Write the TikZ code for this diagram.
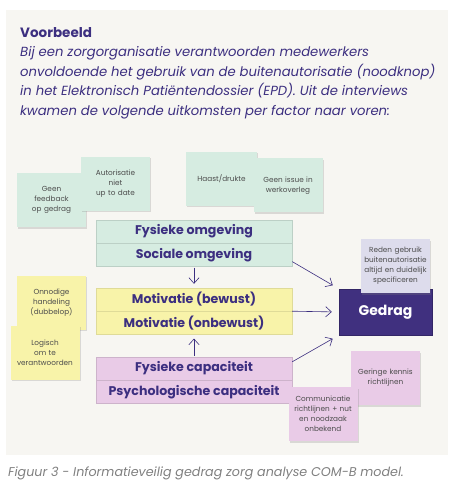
\documentclass[tikz,border=0pt]{standalone}
\usepackage{fontspec}
\setmainfont{Poppins}
\usetikzlibrary{arrows.meta,positioning,shadows}
\definecolor{paper}{HTML}{F7F6F2}
\definecolor{ink}{HTML}{3C2F80}
\definecolor{mint}{HTML}{D6ECE1}
\definecolor{lemon}{HTML}{F8F3A9}
\definecolor{lilac}{HTML}{E9CBE7}
\definecolor{lavender}{HTML}{DDDCEC}
\definecolor{plum}{HTML}{40307F}

\begin{document}
\begin{tikzpicture}[
    x=1pt, y=-1pt,
    factor/.style={minimum width=196pt, minimum height=23pt, inner sep=0pt,
        font=\bfseries\fontsize{12.6}{14}\selectfont, text=ink},
    note/.style={minimum width=69pt, minimum height=54pt, inner sep=1pt,
        text width=66pt, align=center, text=black!70,
        font=\fontsize{7.3}{10}\selectfont,
        drop shadow={shadow xshift=1.2pt, shadow yshift=-1.5pt, opacity=0.25}},
    flow/.style={-{Straight Barb[length=2mm,width=3.6mm]}, ink, semithick}
]
\useasboundingbox (0,0) rectangle (448,502);
\fill[paper] (6,10) rectangle (448,455);

% intro text
\node[anchor=base west, inner sep=0pt, text=ink, font=\bfseries\fontsize{13.5}{15}\selectfont]
    (title) at (20,38) {Voorbeeld};
\node[anchor=north west, inner sep=0pt, align=left, text=ink,
      font=\itshape\fontsize{13.2}{19.5}\selectfont] (intro) at (20,46.5)
    {Bij een zorgorganisatie verantwoorden medewerkers\\
     onvoldoende het gebruik van de buitenautorisatie (noodknop)\\
     in het Elektronisch Patiëntendossier (EPD). Uit de interviews\\
     kwamen de volgende uitkomsten per factor naar voren:};

% sticky notes
\node[note, fill=mint] (feedback) at (51.5,200) {Geen\\feedback\\op gedrag};
\node[note, fill=mint] (autor) at (115.5,184) {Autorisatie\\niet\\up to date};
\node[note, fill=mint, minimum width=71pt] (haast) at (221.5,179) {Haast/drukte};
\node[note, fill=mint] (issue) at (288,185.5) {Geen issue in\\werkoverleg};
\node[note, fill=lemon] (onnodig) at (51.5,302.5) {Onnodige\\handeling\\(dubbelop)};
\node[note, fill=lemon] (logisch) at (45,352.5) {Logisch\\om te\\verantwoorden};

% COM-B factors
\node[factor, fill=mint, draw=mint!88!black] (fysomg) at (194,231.5) {Fysieke omgeving};
\node[factor, fill=mint, draw=mint!88!black, below=0pt of fysomg] (socomg) {Sociale omgeving};
\node[factor, fill=lemon, draw=lemon!90!black] (motbew) at (194,299.5) {Motivatie (bewust)};
\node[factor, fill=lemon, draw=lemon!90!black, below=0pt of motbew] (motonb) {Motivatie (onbewust)};
\node[factor, fill=lilac, draw=lilac!88!black] (fyscap) at (194,368.5) {Fysieke capaciteit};
\node[factor, fill=lilac, draw=lilac!88!black, below=0pt of fyscap] (psycap) {Psychologische capaciteit};

% behaviour
\node[fill=plum, draw=plum!80!black, minimum width=93pt, minimum height=46pt, text=white,
      font=\bfseries\fontsize{14}{16}\selectfont] (gedrag) at (385.5,312) {Gedrag};
\node[note, fill=lavender] (reden) at (395.5,266) {Reden gebruik\\buitenautorisatie\\altijd en duidelijk\\specificeren};
\node[note, fill=lilac] (geringe) at (385.5,378) {Geringe kennis\\richtlijnen};
\node[note, fill=lilac] (commu) at (323,414) {Communicatie\\richtlijnen + nut\\en noodzaak\\onbekend};

% arrows
\draw[flow, shorten <=1pt, shorten >=4pt] (socomg) -- (motbew);
\draw[flow, shorten <=1pt, shorten >=4pt] (fyscap) -- (motonb);
\draw[flow, shorten >=7pt] ([yshift=5pt]socomg.south east) -- (gedrag.north west);
\draw[flow, shorten >=7pt] (motbew.south east) -- (gedrag.west);
\draw[flow, shorten >=7pt] ([yshift=-5pt]fyscap.north east) -- (gedrag.south west);

% caption
\node[anchor=base west, inner sep=0pt, text=black!50, font=\itshape\fontsize{12.7}{14}\selectfont]
    (caption) at (8,476) {Figuur 3 - Informatieveilig gedrag zorg analyse COM-B model.};
\end{tikzpicture}
\end{document}
